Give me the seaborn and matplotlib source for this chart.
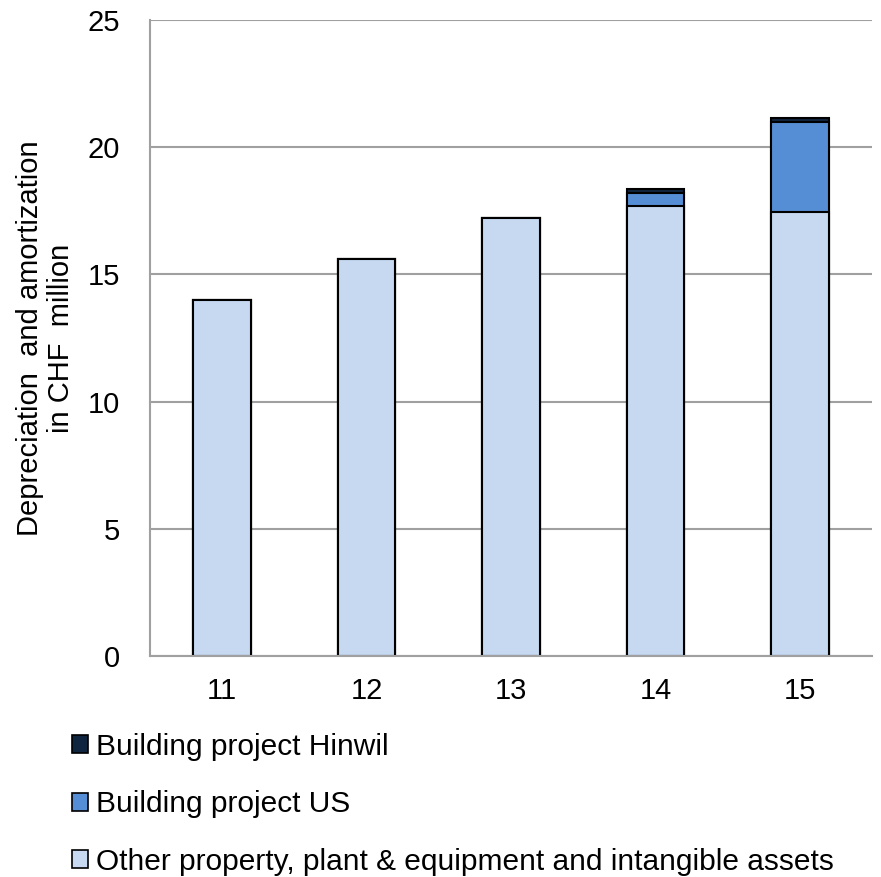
import numpy as np
import pandas as pd
import seaborn as sns
import matplotlib.pyplot as plt
from matplotlib.patches import Patch

years = ["11", "12", "13", "14", "15"]
other = [14.0, 15.6, 17.2, 17.7, 17.45]
us = [0.0, 0.0, 0.0, 0.5, 3.55]
hinwil = [0.0, 0.0, 0.0, 0.15, 0.15]

labels = ["Building project Hinwil", "Building project US",
          "Other property, plant & equipment and intangible assets"]
colors = ["#10253F", "#558ED5", "#C6D9F1"]

df = pd.DataFrame({"year": years, "other": other, "us": us, "hinwil": hinwil})
df["lvl_us"] = df.other + df.us
df["lvl_total"] = df.lvl_us + df.hinwil

sns.set_style("white")
plt.rcParams["font.family"] = ["Liberation Sans", "DejaVu Sans"]
plt.rcParams["text.color"] = "black"
plt.rcParams["axes.labelcolor"] = "black"

fig = plt.figure(figsize=(8.81, 8.77), dpi=100)
ax = fig.add_axes([150 / 881, 1 - 656 / 877, 722 / 881, 636 / 877])

# overlapping cumulative bars: total first, then lower levels on top
for col, c in zip(["lvl_total", "lvl_us", "other"], colors):
    sns.barplot(data=df, x="year", y=col, color=c, width=0.4,
                edgecolor="black", linewidth=1.5, saturation=1, ax=ax)

ax.set_ylim(0, 25)
ax.set_xlim(-0.5, 4.5)
ax.set_yticks([0, 5, 10, 15, 20, 25])
ax.yaxis.grid(True, color="#A0A0A0", linewidth=1.5)
ax.set_axisbelow(True)
ax.set_xlabel("")
ax.set_ylabel("Depreciation  and amortization\nin CHF  million", fontsize=21,
              labelpad=9, linespacing=1.15, color="black")
ax.tick_params(axis="both", labelsize=21, colors="black")
ax.tick_params(axis="x", length=0, pad=15)
ax.tick_params(axis="y", length=6.5, width=1.5, color="#A0A0A0", direction="out", pad=15)
ax.set_xticks(np.arange(-0.5, 5, 1), minor=True)
ax.tick_params(axis="x", which="minor", length=6, width=1.5, color="#A0A0A0", direction="out")
for s in ["top", "right"]:
    ax.spines[s].set_visible(False)
for s in ["left", "bottom"]:
    ax.spines[s].set_color("#A0A0A0")
    ax.spines[s].set_linewidth(1.5)

handles = [Patch(facecolor=c, edgecolor="black", linewidth=1.2) for c in colors]
leg = fig.legend(handles, labels, loc="upper left", bbox_to_anchor=(72 / 881, 1 - 733 / 877),
                 frameon=False, fontsize=21.5, handlelength=0.55, handleheight=0.55,
                 handletextpad=0.25, labelspacing=0.98, borderaxespad=0, borderpad=0)
for t in leg.get_texts():
    t.set_color("black")

fig.savefig("out.png", dpi=100)
